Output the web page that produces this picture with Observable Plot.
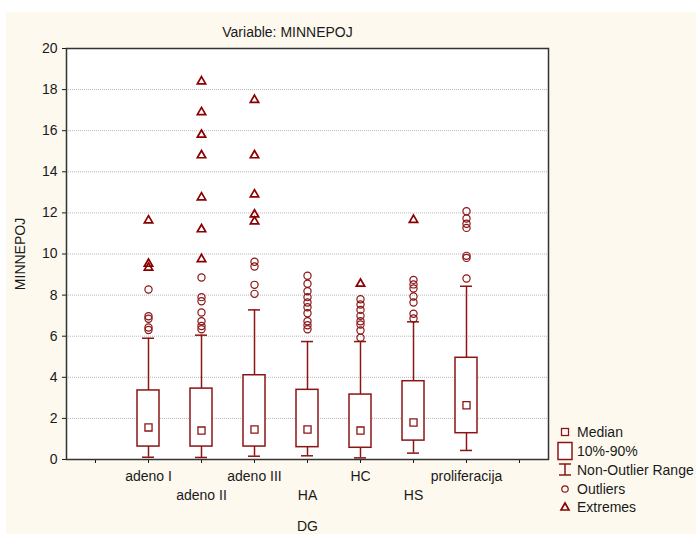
<!DOCTYPE html>
<html>
<head>
<meta charset="utf-8">
<script src="https://cdn.jsdelivr.net/npm/d3@7"></script>
<script src="https://cdn.jsdelivr.net/npm/@observablehq/plot@0.6"></script>
<style>
  html, body { margin: 0; padding: 0; background: #ffffff; }
  #wrap { position: relative; width: 696px; height: 534px; overflow: hidden; }
  #bg { position: absolute; left: 6px; top: 12px; width: 690px; height: 522px; background: #fdf9ef; }
  #chart { position: absolute; left: 0; top: 0; }
  #legend { position: absolute; left: 0; top: 0; }
</style>
</head>
<body>
<div id="wrap">
  <div id="bg"></div>
  <div id="chart"></div>
  <svg id="legend" width="696" height="534"></svg>
</div>
<script>
const title = "Variable: MINNEPOJ";
const yLabel = "MINNEPOJ";
const xLabel = "DG";
const categories = ["adeno I", "adeno II", "adeno III", "HA", "HC", "HS", "proliferacija"];
const yTicks = [0, 2, 4, 6, 8, 10, 12, 14, 16, 18, 20];
const gridTicks = [2, 4, 6, 8, 10, 12, 14, 16, 18];

const median = [1.56, 1.41, 1.46, 1.46, 1.41, 1.80, 2.64];
const p10 = [0.63, 0.63, 0.63, 0.60, 0.57, 0.92, 1.28];
const p90 = [3.36, 3.45, 4.10, 3.39, 3.16, 3.81, 4.95];
const whiskerLow = [0.11, 0.10, 0.16, 0.18, 0.08, 0.31, 0.44];
const whiskerHigh = [5.90, 6.05, 7.28, 5.74, 5.74, 6.70, 8.43];

const outliersAdenoI = [8.27, 6.97, 6.85, 6.42, 6.30];
const outliersAdenoII = [8.86, 7.90, 7.70, 7.15, 6.73, 6.50, 6.34];
const outliersAdenoIII = [9.62, 9.39, 8.50, 8.06];
const outliersHA = [8.94, 8.55, 8.19, 7.90, 7.64, 7.41, 7.12, 6.73, 6.53, 6.34];
const outliersHC = [7.80, 7.54, 7.28, 6.99, 6.73, 6.57, 6.28, 5.92];
const outliersHS = [8.74, 8.52, 8.32, 7.93, 7.64, 7.09, 6.86];
const outliersProliferacija = [12.08, 11.73, 11.47, 11.27, 9.91, 9.81, 8.81];

const extremesAdenoI = [11.63, 9.52, 9.33];
const extremesAdenoII = [18.40, 16.90, 15.80, 14.80, 12.75, 11.20, 9.75];
const extremesAdenoIII = [17.50, 14.80, 12.90, 11.92, 11.58];
const extremesHA = [];
const extremesHC = [8.55];
const extremesHS = [11.66];
const extremesProliferacija = [];

const outlierLists = [outliersAdenoI, outliersAdenoII, outliersAdenoIII, outliersHA, outliersHC, outliersHS, outliersProliferacija];
const extremeLists = [extremesAdenoI, extremesAdenoII, extremesAdenoIII, extremesHA, extremesHC, extremesHS, extremesProliferacija];

const stats = categories.map((c, i) => ({cat: c, med: median[i], lo: p10[i], hi: p90[i], wlo: whiskerLow[i], whi: whiskerHigh[i]}));
const outliers = categories.flatMap((c, i) => outlierLists[i].map(v => ({cat: c, v})));
const extremes = categories.flatMap((c, i) => extremeLists[i].map(v => ({cat: c, v})));

const xDomain = ["_pad0", ...categories, "_pad1"];
const row1 = categories.filter((d, i) => i % 2 === 0);
const row2 = categories.filter((d, i) => i % 2 === 1);

const red = "#8b1414";
const font = "Arial, 'Liberation Sans', sans-serif";

const chart = Plot.plot({
  width: 696,
  height: 534,
  marginLeft: 66,
  marginRight: 148,
  marginTop: 48,
  marginBottom: 75,
  style: {background: "transparent", fontFamily: font, fontSize: "14px", color: "#1a1a1a"},
  x: {type: "band", domain: xDomain, paddingInner: 0.59, paddingOuter: 0.295},
  y: {domain: [0, 20]},
  marks: [
    Plot.frame({fill: "white", stroke: "none"}),
    Plot.gridY(gridTicks, {stroke: "#999", strokeOpacity: 0.7, strokeDasharray: "1,1"}),
    Plot.axisY({ticks: yTicks, tickSize: 4, tickPadding: 5, label: null, fontSize: 14}),
    Plot.axisX({ticks: xDomain, tickSize: 4, tickFormat: () => "", label: null}),
    Plot.axisX({ticks: row1, tickSize: 0, tickPadding: 12, label: null, fontSize: 14}),
    Plot.axisX({ticks: row2, tickSize: 0, tickPadding: 31, label: null, fontSize: 14}),
    Plot.text([xLabel], {text: d => d, frameAnchor: "bottom", lineAnchor: "middle", dy: 67, fontSize: 14}),
    Plot.text([yLabel], {text: d => d, frameAnchor: "left", textAnchor: "middle", lineAnchor: "middle", rotate: -90, dx: -46, fontSize: 14}),
    Plot.text([title], {text: d => d, frameAnchor: "top", textAnchor: "middle", lineAnchor: "middle", dx: -20, dy: -16, fontSize: 14}),
    Plot.ruleX(stats, {x: "cat", y1: "wlo", y2: "whi", stroke: red, strokeWidth: 1.5}),
    Plot.tickY(stats, {x: "cat", y: "wlo", stroke: red, strokeWidth: 1.5, inset: 5}),
    Plot.tickY(stats, {x: "cat", y: "whi", stroke: red, strokeWidth: 1.5, inset: 5}),
    Plot.barY(stats, {x: "cat", y1: "lo", y2: "hi", fill: "white", stroke: red, strokeWidth: 1.5}),
    Plot.dot(stats, {x: "cat", y: "med", symbol: "square", r: 4, fill: "white", stroke: red, strokeWidth: 1.3}),
    Plot.dot(outliers, {x: "cat", y: "v", symbol: "circle", r: 3.6, fill: "none", stroke: red, strokeWidth: 1.2}),
    Plot.dot(extremes, {x: "cat", y: "v", symbol: "triangle", r: 3.1, fill: "none", stroke: "#8b0000", strokeWidth: 1.7}),
    Plot.frame({stroke: "#333", strokeWidth: 1.5})
  ]
});
document.getElementById("chart").appendChild(chart);

// Legend (hand-drawn key, like the original's side legend)
const legendItems = ["Median", "10%-90%", "Non-Outlier Range", "Outliers", "Extremes"];
const legendY = [432, 451, 470, 489, 507];
const ns = "http://www.w3.org/2000/svg";
const lg = document.getElementById("legend");
function el(name, attrs) {
  const e = document.createElementNS(ns, name);
  for (const k in attrs) e.setAttribute(k, attrs[k]);
  lg.appendChild(e);
  return e;
}
const sx = 565;
el("rect", {x: sx - 3.5, y: legendY[0] - 3.5, width: 7, height: 7, fill: "white", stroke: red, "stroke-width": 1.3});
el("rect", {x: sx - 7, y: legendY[1] - 8.5, width: 14, height: 17, fill: "white", stroke: red, "stroke-width": 1.5});
el("path", {d: `M${sx - 6},${legendY[2] - 6}H${sx + 6}M${sx},${legendY[2] - 6}V${legendY[2] + 5}M${sx - 6},${legendY[2] + 5}H${sx + 6}`, fill: "none", stroke: red, "stroke-width": 1.5});
el("circle", {cx: sx, cy: legendY[3], r: 3.2, fill: "none", stroke: red, "stroke-width": 1.2});
el("path", {d: `M${sx},${legendY[4] - 4}L${sx + 4},${legendY[4] + 3}L${sx - 4},${legendY[4] + 3}Z`, fill: "none", stroke: "#8b0000", "stroke-width": 1.7});
legendItems.forEach((t, i) => {
  const tx = el("text", {x: 577, y: legendY[i], "dominant-baseline": "central", "font-family": font, "font-size": 14, fill: "#1a1a1a"});
  tx.textContent = t;
});
</script>
</body>
</html>
